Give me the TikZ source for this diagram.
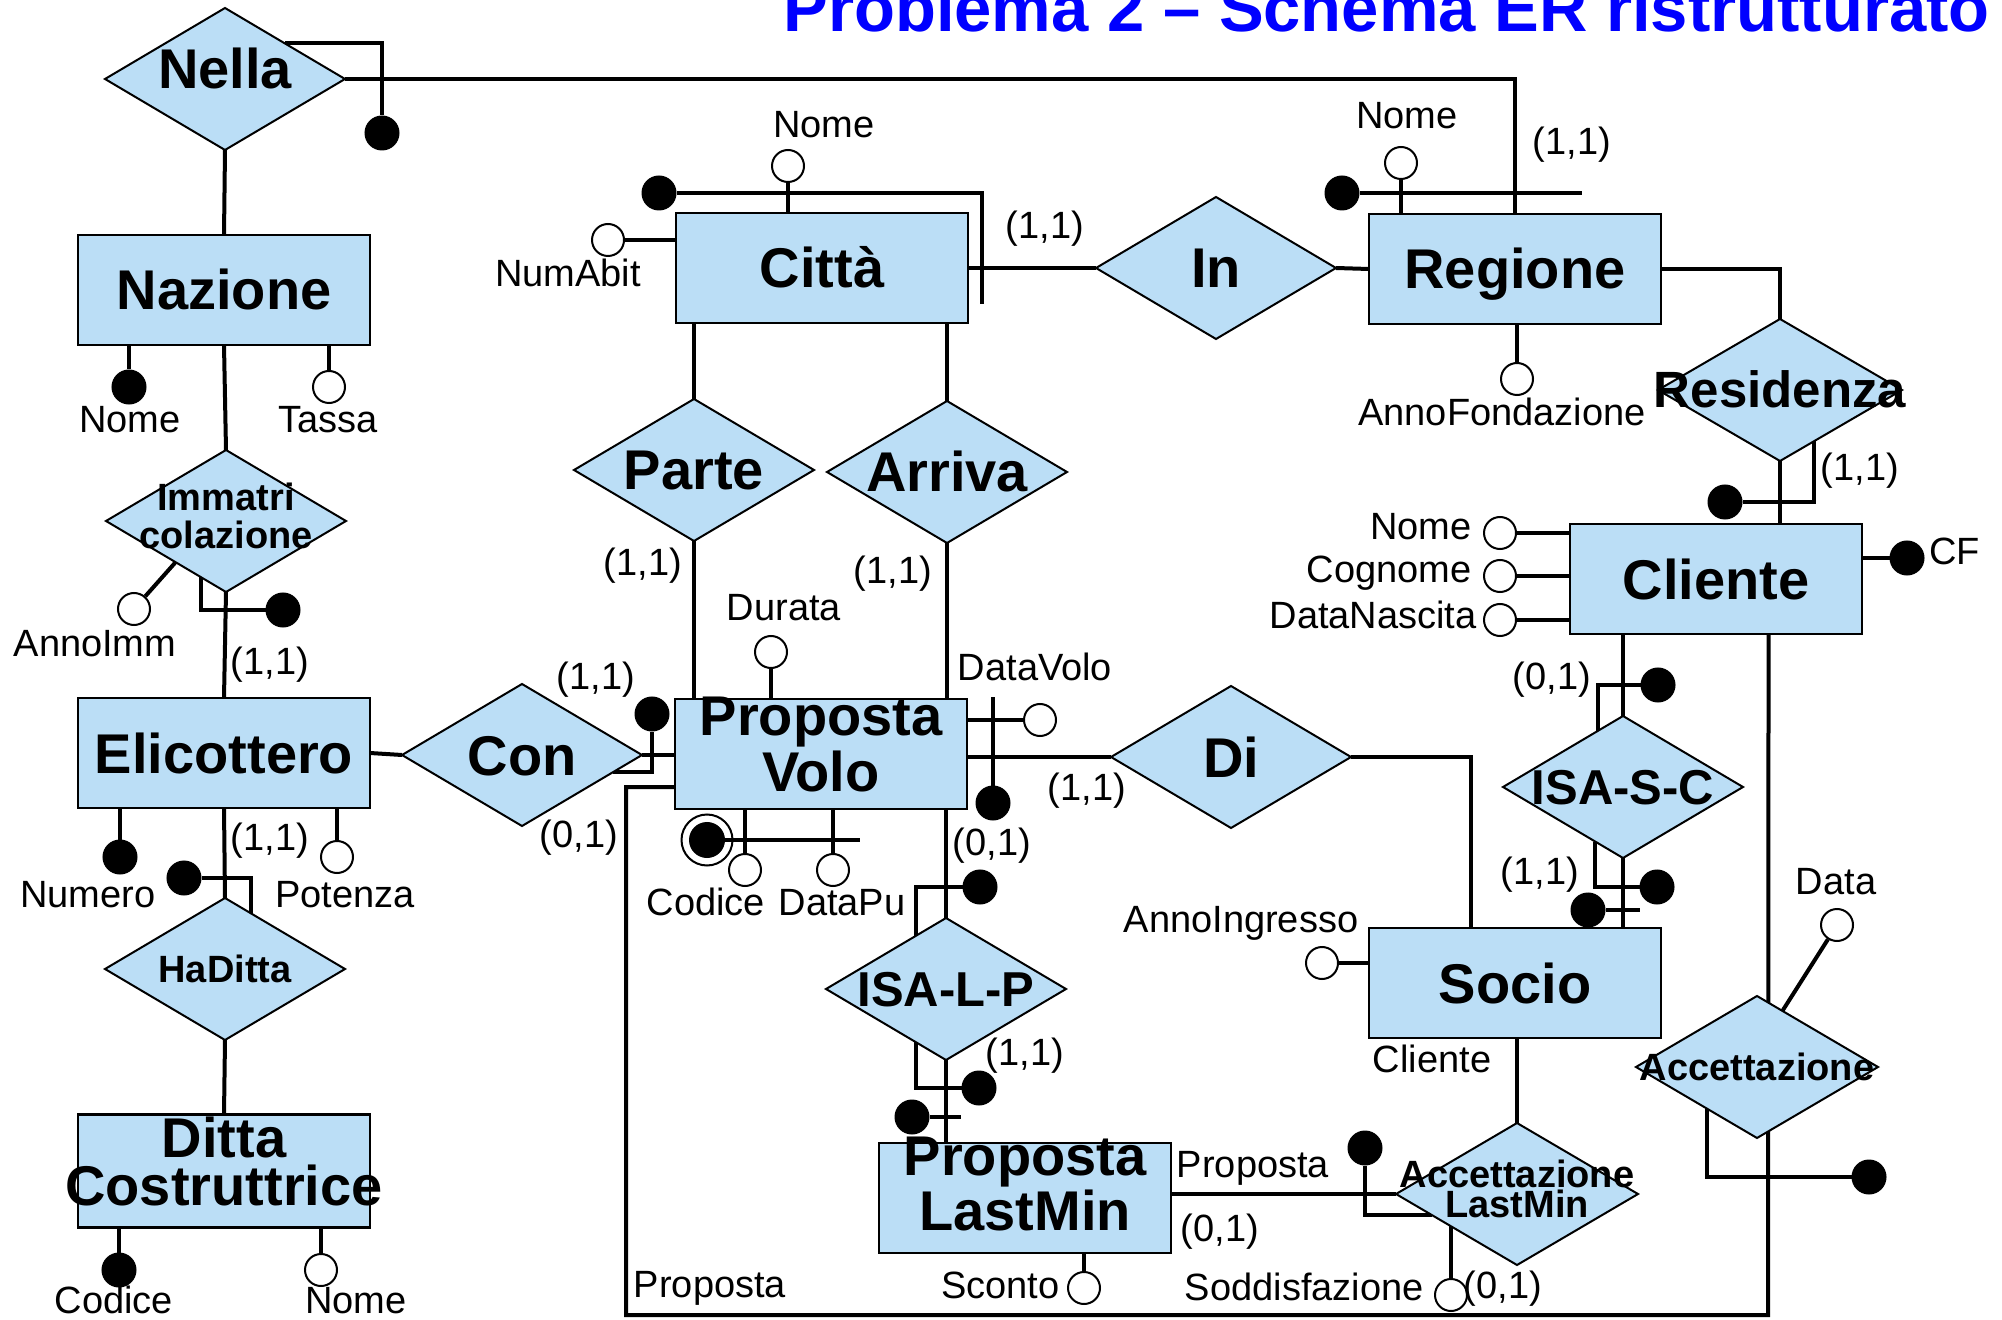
\documentclass[tikz,border=0pt]{standalone}
\usepackage{fontspec}
\setmainfont{Liberation Sans}
\usetikzlibrary{shapes.geometric,calc,backgrounds}
\definecolor{erblue}{RGB}{187,222,246}
\definecolor{titleblue}{RGB}{0,0,255}
\newcommand{\entfont}{\fontsize{28}{28}\selectfont\bfseries}
\newcommand{\dittafont}{\fontsize{28}{24}\selectfont\bfseries}
\newcommand{\isafont}{\fontsize{24.5}{24.5}\selectfont\bfseries}
\newcommand{\smallrelfont}{\fontsize{19}{19}\selectfont\bfseries}
\newcommand{\lastminfont}{\fontsize{19}{15}\selectfont\bfseries}
\newcommand{\attrfont}{\fontsize{19}{19}\selectfont}
\begin{document}
\begin{tikzpicture}[x=0.5pt,y=-0.5pt,
  ent/.style={draw,fill=erblue,line width=1.3pt,minimum width=146pt,minimum height=55pt,inner sep=0pt,outer sep=0pt},
  rel/.style={diamond,draw,fill=erblue,line width=1pt,minimum width=120pt,minimum height=71pt,inner sep=0pt,outer sep=0pt},
  etxt/.style={font=\entfont,text height=20pt,text depth=0pt,inner sep=0pt},
  etxt2/.style={font=\entfont,align=center,inner sep=0pt},
  isatxt/.style={font=\isafont,text height=17.5pt,text depth=0pt,inner sep=0pt},
  smalltxt/.style={font=\smallrelfont,text height=13.6pt,text depth=0pt,inner sep=0pt},
  idf/.style={circle,draw,fill=black,line width=1pt,minimum size=16.5pt,inner sep=0pt},
  attr/.style={circle,draw,fill=white,line width=1pt,minimum size=16pt,inner sep=0pt},
  ring/.style={circle,draw,line width=1pt,minimum size=25.5pt,inner sep=0pt},
  lbl/.style={font=\attrfont,inner sep=0pt,anchor=base},
  link/.style={line width=2pt}]
  \useasboundingbox (0,0) rectangle (2002,1320);
  \node[font=\fontsize{33.5}{33.5}\selectfont\bfseries,text=titleblue,anchor=base west,inner sep=0pt]
    (title) at (783,32) {Problema 2 – Schema ER ristrutturato};

  \node[ent,label={[etxt]center:Nazione}] (naz) at (224,290) {};
  \node[ent,label={[etxt]center:Città}] (citta) at (822,268) {};
  \node[ent,label={[etxt]center:Regione}] (reg) at (1515,269) {};
  \node[ent,label={[etxt]center:Elicottero}] (eli) at (224,753) {};
  \node[ent,label={[etxt2,yshift=4.5pt]center:{Proposta\\Volo}}] (pv) at (821,754) {};
  \node[ent,label={[etxt]center:Cliente}] (cli) at (1716,579) {};
  \node[ent,label={[etxt]center:Socio}] (socio) at (1515,983) {};
  \node[ent,minimum height=56.5pt,label={[etxt2,font=\dittafont,yshift=5pt]center:{Ditta\\Costruttrice}}] (ditta) at (224,1171) {};
  \node[ent,label={[etxt2,yshift=7pt]center:{Proposta\\LastMin}}] (plm) at (1025,1198) {};

  \node[rel,label={[etxt,yshift=5pt]center:Nella}] (nella) at (225,79) {};
  \node[rel,label={[etxt2,font=\smallrelfont,yshift=2.75pt]center:{Immatri\\colazione}}] (immat) at (226,521) {};
  \node[rel,label={[etxt]center:In}] (in) at (1216,268) {};
  \node[rel,label={[etxt]center:Parte}] (parte) at (694,470) {};
  \node[rel,label={[etxt]center:Arriva}] (arriva) at (947,472) {};
  \node[rel,label={[etxt]center:Con}] (con) at (522,755) {};
  \node[rel,label={[etxt]center:Di}] (di) at (1231,757) {};
  \node[rel,minimum width=122pt,label={[isatxt,font=\fontsize{25.5}{25.5}\selectfont\bfseries]center:Residenza}] (res) at (1780,390) {};
  \node[rel,label={[isatxt]center:ISA-S-C}] (isasc) at (1623,787) {};
  \node[rel,label={[isatxt]center:ISA-L-P}] (isalp) at (946,989) {};
  \node[rel,label={[smalltxt]center:HaDitta}] (hadit) at (225,969) {};
  \node[rel,minimum width=121pt,label={[smalltxt]center:Accettazione}] (acc) at (1757,1067) {};
  \node[rel,minimum width=121pt,label={[etxt2,font=\lastminfont,yshift=2.75pt]center:{Accettazione\\LastMin}}] (acclm) at (1517,1194) {};

  \node[idf] (nazNome) at (129,387) {};
  \node[attr] (nazTassa) at (329,387) {};
  \node[idf] (nellaMk) at (382,133) {};
  \node[attr] (cNome) at (788,166) {};
  \node[idf] (cId) at (659,193) {};
  \node[attr] (cNum) at (608,240) {};
  \node[attr] (rNome) at (1401,163) {};
  \node[idf] (rId) at (1342,193) {};
  \node[attr] (rAnno) at (1517,379) {};
  \node[attr] (iAnno) at (134,609) {};
  \node[idf] (iMk) at (283,610) {};
  \node[idf] (eNum) at (120,857) {};
  \node[attr] (ePot) at (337,857) {};
  \node[idf] (eMk) at (184,878) {};
  \node[idf] (dCod) at (119,1270) {};
  \node[attr] (dNome) at (321,1270) {};
  \node[idf] (conMk) at (652,714) {};
  \node[attr] (pvDur) at (771,652) {};
  \node[attr] (pvDV) at (1040,720) {};
  \node[idf] (pvId) at (993,803) {};
  \node[ring] (pvCodRing) at (707,840) {};
  \node[idf,minimum size=17pt] (pvCod) at (707,840) {};
  \node[attr] (pvCodice) at (745,870) {};
  \node[attr] (pvDataPu) at (833,870) {};
  \node[idf] (lMk1) at (980,887) {};
  \node[idf] (lMk2) at (979,1088) {};
  \node[idf] (plmId) at (912,1117) {};
  \node[attr] (sconto) at (1084,1288) {};
  \node[idf] (alMk) at (1365,1148) {};
  \node[attr] (sodd) at (1451,1295) {};
  \node[attr] (cliNome) at (1500,533) {};
  \node[attr] (cliCogn) at (1500,576) {};
  \node[attr] (cliNasc) at (1500,620) {};
  \node[idf] (cliCF) at (1907,558) {};
  \node[idf] (resMk) at (1725,502) {};
  \node[idf] (sMk1) at (1658,685) {};
  \node[idf] (sMk2) at (1657,887) {};
  \node[idf] (sId) at (1588,910) {};
  \node[attr] (aIng) at (1322,963) {};
  \node[attr] (accData) at (1837,925) {};
  \node[idf] (accMk) at (1869,1177) {};

  \coordinate (cIdEnd) at (982,304);
  \coordinate (rIdEnd) at (1582,193);
  \coordinate (pvIdTop) at (993,697);
  \coordinate (pvCodEnd) at (860,840);
  \coordinate (plmIdEnd) at (961,1117);
  \coordinate (sIdEnd) at (1640,910);
  \coordinate (loopBR) at (1768,1315);
  \coordinate (loopBL) at (626,1315);
  \coordinate (soddEdge) at ($(acclm.west)!0.45!(acclm.south)$);

  \node[lbl] (tNazNome) at (130,433) {Nome};
  \node[lbl] (tNazTassa) at (328,433) {Tassa};
  \node[lbl] (tCNome) at (824,138) {Nome};
  \node[lbl] (tCNum) at (568,287) {NumAbit};
  \node[lbl] (tRNome) at (1407,129) {Nome};
  \node[lbl] (tRAnno) at (1502,426) {AnnoFondazione};
  \node[lbl] (tIAnno) at (95,656) {AnnoImm};
  \node[lbl] (tENum) at (88,907) {Numero};
  \node[lbl] (tEPot) at (345,907) {Potenza};
  \node[lbl] (tDCod) at (114,1313) {Codice};
  \node[lbl] (tDNome) at (356,1313) {Nome};
  \node[lbl] (tDur) at (784,620) {Durata};
  \node[lbl] (tDV) at (1035,680) {DataVolo};
  \node[lbl] (tCodice) at (706,915) {Codice};
  \node[lbl] (tDataPu) at (842,915) {DataPu};
  \node[lbl] (tIng) at (1241,932) {AnnoIngresso};
  \node[lbl] (tCliente) at (1432,1072) {Cliente};
  \node[lbl] (tData) at (1836,894) {Data};
  \node[lbl,anchor=base west] (tCF) at (1929,565) {CF};
  \node[lbl,anchor=base east] (tCliNome) at (1472,540) {Nome};
  \node[lbl,anchor=base east] (tCliCogn) at (1472,582) {Cognome};
  \node[lbl,anchor=base east] (tCliNasc) at (1477,628) {DataNascita};
  \node[lbl] (tProp1) at (1253,1177) {Proposta};
  \node[lbl] (tProp2) at (710,1297) {Proposta};
  \node[lbl,anchor=base east] (tSconto) at (1060,1298) {Sconto};
  \node[lbl,anchor=base east] (tSodd) at (1424,1300) {Soddisfazione};

  \node[lbl] (kCittaIn) at (1045,239) {(1,1)};
  \node[lbl] (kNellaReg) at (1572,155) {(1,1)};
  \node[lbl] (kResCli) at (1860,481) {(1,1)};
  \node[lbl] (kImmat) at (270,674) {(1,1)};
  \node[lbl] (kHaDitta) at (270,850) {(1,1)};
  \node[lbl] (kConPv) at (596,689) {(1,1)};
  \node[lbl] (kConEli) at (579,847) {(0,1)};
  \node[lbl] (kParte) at (643,575) {(1,1)};
  \node[lbl] (kArriva) at (893,583) {(1,1)};
  \node[lbl] (kDi) at (1087,800) {(1,1)};
  \node[lbl] (kPvIsa) at (992,855) {(0,1)};
  \node[lbl] (kIsaPlm) at (1025,1065) {(1,1)};
  \node[lbl] (kCliIsa) at (1552,689) {(0,1)};
  \node[lbl] (kIsaSocio) at (1540,884) {(1,1)};
  \node[lbl] (kPlmAcc) at (1220,1241) {(0,1)};
  \node[lbl] (kSodd) at (1503,1298) {(0,1)};

  \begin{scope}[on background layer]
  \begin{scope}[link]
    \draw (nella.south) -- (naz.north);
    \draw (nella.east) -| (reg.north);
    \draw ($(nella.north)!0.5!(nella.east)$) -| (nellaMk);
    \draw (naz.south) -- (immat.north);
    \draw (nazNome) -- (nazNome |- naz.south);
    \draw (nazTassa) -- (nazTassa |- naz.south);
    \draw (immat.south) -- (eli.north);
    \draw ($(immat.west)!0.58!(immat.south)$) -- (iAnno);
    \draw ($(immat.west)!0.79!(immat.south)$) |- (iMk);
    \draw (eli.east) -- (con.west);
    \draw (con.east) -- (con.east -| pv.west);
    \draw ($(con.east)!0.24!(con.south)$) -| (conMk);
    \draw (eNum) -- (eNum |- eli.south);
    \draw (ePot) -- (ePot |- eli.south);
    \draw (eli.south) -- (hadit.north);
    \draw (eMk) -| ($(hadit.north)!0.22!(hadit.east)$);
    \draw (hadit.south) -- (ditta.north);
    \draw (dCod) -- (dCod |- ditta.south);
    \draw (dNome) -- (dNome |- ditta.south);
    \draw (cNome) -- (cNome |- citta.north);
    \draw (cId) -| (cIdEnd);
    \draw (cNum) -- (cNum -| citta.west);
    \draw (citta.east) -- (in.west);
    \draw (parte.north) -- (parte.north |- citta.south);
    \draw (arriva.north) -- (arriva.north |- citta.south);
    \draw (parte.south) -- (parte.south |- pv.north);
    \draw (arriva.south) -- (arriva.south |- pv.north);
    \draw (in.east) -- (reg.west);
    \draw (rNome) -- (rNome |- reg.north);
    \draw (rId) -- (rIdEnd);
    \draw (rAnno) -- (rAnno |- reg.south);
    \draw (reg.east) -| (res.north);
    \draw (res.south) -- (res.south |- cli.north);
    \draw ($(res.east)!0.72!(res.south)$) |- (resMk);
    \draw (cliNome) -- (cliNome -| cli.west);
    \draw (cliCogn) -- (cliCogn -| cli.west);
    \draw (cliNasc) -- (cliNasc -| cli.west);
    \draw (cliCF) -- (cliCF -| cli.east);
    \draw (isasc.north) -- (isasc.north |- cli.south);
    \draw ($(isasc.north)!0.21!(isasc.west)$) |- (sMk1);
    \draw (isasc.south) -- (isasc.south |- socio.north);
    \draw ($(isasc.south)!0.23!(isasc.west)$) |- (sMk2);
    \draw (sId) -- (sIdEnd);
    \draw (di.west -| pv.east) -- (di.west);
    \draw (di.east) -| ($(socio.north west)!0.35!(socio.north east)$);
    \draw (aIng) -- (aIng -| socio.west);
    \draw (acclm.north) -- (acclm.north |- socio.south);
    \draw (pvDur) -- (pvDur |- pv.north);
    \draw (pvDV) -- (pvDV -| pv.east);
    \draw (pvIdTop) -- (pvId);
    \draw (pvCod) -- (pvCodEnd);
    \draw (pvCodice) -- (pvCodice |- pv.south);
    \draw (pvDataPu) -- (pvDataPu |- pv.south);
    \draw (isalp.north) -- (isalp.north |- pv.south);
    \draw ($(isalp.north)!0.25!(isalp.west)$) |- (lMk1);
    \draw (isalp.south) -- (isalp.south |- plm.north);
    \draw ($(isalp.south)!0.25!(isalp.west)$) |- (lMk2);
    \draw (plmId) -- (plmIdEnd);
    \draw (sconto) -- (sconto |- plm.south);
    \draw (acclm.west -| plm.east) -- (acclm.west);
    \draw (alMk) |- ($(acclm.west)!0.3!(acclm.south)$);
    \draw (sodd) -- (sodd |- soddEdge);
    \draw (accData) -- ($(acc.north)!0.21!(acc.east)$);
    \draw ($(acc.west)!0.59!(acc.south)$) |- (accMk);
    \draw ($(cli.south west)!0.68!(cli.south east)$) -- (loopBR) -- (loopBL)
      |- ($(pv.south west)!0.2!(pv.north west)$);
  \end{scope}
  \end{scope}
\end{tikzpicture}
\end{document}
